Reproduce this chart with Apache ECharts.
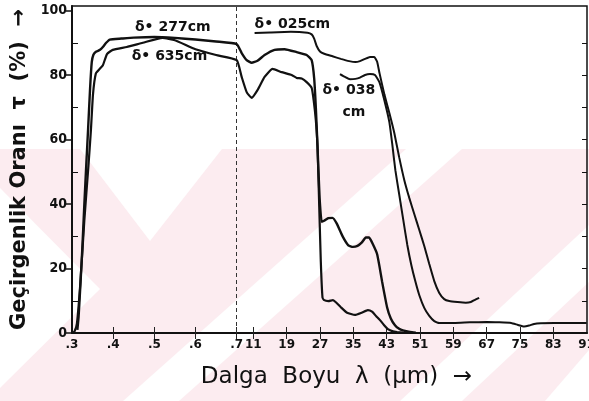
<!DOCTYPE html>
<html><head><meta charset="utf-8">
<script src="https://cdn.jsdelivr.net/npm/echarts@6/dist/echarts.min.js"></script>
<style>html,body{margin:0;padding:0;background:#fff}#c{width:589px;height:401px}</style>
</head><body><div id="c"></div>
<script>
// ---- data (wavelength in micrometres, transmittance in %) ----
const xTickLambdas = [0.3, 0.4, 0.5, 0.6, 0.7, 1.1, 1.9, 2.7, 3.5, 4.3, 5.1, 5.9, 6.7, 7.5, 8.3, 9.1];
const xTickLabels  = ['.3', '.4', '.5', '.6', '.7', '11', '19', '27', '35', '43', '51', '59', '67', '75', '83', '91'];
const yLabelValues = [0, 20, 40, 60, 80, 100];
const yMinorValues = [10, 30, 50, 70, 90];
const yAllValues   = [0, 10, 20, 30, 40, 50, 60, 70, 80, 90, 100];

const d277 = [[0.313,1],[0.316,5],[0.320,14],[0.325,26],[0.330,40],[0.335,53],[0.339,63],[0.344,76],[0.348,84],[0.352,86.3],[0.358,87.2],[0.368,87.8],[0.375,88.7],[0.383,90],[0.392,91],[0.42,91.3],[0.45,91.6],[0.50,91.8],[0.55,91.5],[0.60,91],[0.65,90.4],[0.70,89.6],
  [0.82,86.8],[0.94,84.6],[1.06,83.8],[1.2,84.4],[1.37,86.2],[1.61,87.8],[1.85,88],[2.14,87.1],[2.38,86.2],[2.50,84.6],[2.56,79],[2.60,70],[2.64,58],[2.69,42],[2.74,34.5],
  [2.8,34.8],[2.9,35.6],[3.0,35.7],[3.1,34],[3.25,29.8],[3.38,27.2],[3.49,26.7],[3.6,27],[3.70,28],[3.80,29.6],[3.88,29.6],[3.97,27.5],[4.07,24.5],[4.13,20.5],[4.19,16],[4.31,8],[4.40,4.5],[4.50,2.4],[4.60,1.3],[4.69,0.8],[4.86,0.3],[5.0,0.1]];

const d635 = [[0.300,0],[0.306,0.5],[0.312,3],[0.320,15],[0.330,35],[0.340,52],[0.346,63],[0.351,74],[0.358,80.5],[0.368,82],[0.375,83],[0.385,86.5],[0.399,87.8],[0.433,88.7],[0.472,90],[0.52,91.5],[0.55,90.8],[0.60,88],[0.65,86.2],[0.70,84.6],
  [0.82,79.4],[0.94,74.7],[1.06,72.9],[1.20,75.3],[1.37,79.4],[1.56,81.9],[1.78,80.9],[2.02,80],[2.14,79.1],[2.26,78.9],[2.38,77.8],[2.50,76],[2.55,72],[2.60,66],[2.64,58],[2.68,40],[2.72,22],[2.76,11],[2.80,10.2],
  [2.9,9.9],[3.01,10.2],[3.1,9.3],[3.2,8],[3.35,6.3],[3.54,5.6],[3.7,6.3],[3.85,7.1],[3.95,6.6],[4.05,5.2],[4.14,4],[4.24,2.4],[4.33,1.2],[4.45,0.5],[4.55,0.3],[4.7,0.1]];

const d025 = [[1.13,93.0],[1.5,93.2],[2.0,93.4],[2.4,93.1],[2.50,92.6],[2.56,91.3],[2.62,89],[2.70,87.3],[2.80,86.6],[3.0,85.8],[3.2,85],[3.4,84.3],[3.55,84],[3.66,84.3],[3.78,85],[3.90,85.6],[4.00,85.6],[4.07,84.2],[4.13,80.5],[4.245,74],[4.365,68.2],[4.484,62.0],[4.604,54.3],[4.724,47.4],[4.843,41.9],[4.963,36.9],[5.082,32.0],[5.203,27.0],[5.323,21.4],[5.443,16.1],[5.563,12.4],[5.682,10.5],[5.803,9.9],[6.0,9.6],[6.2,9.4],[6.32,9.6],[6.42,10.3],[6.52,10.9]];

const d038 = [[3.18,80.3],[3.30,79.4],[3.42,78.7],[3.55,78.8],[3.66,79.2],[3.78,80],[3.90,80.3],[4.02,80],[4.126,77.8],[4.245,72.2],[4.365,65.4],[4.437,58.3],[4.509,50.5],[4.604,42.8],[4.700,35.0],[4.796,27.3],[4.892,21.1],[4.987,16.1],[5.082,11.8],[5.203,7.8],[5.323,5.3],[5.443,3.7],[5.563,3.1],[5.75,3.1],[5.92,3.1],[6.3,3.3],[6.71,3.4],[7.0,3.3],[7.29,3.1],[7.45,2.5],[7.60,2.0],[7.72,2.3],[7.84,2.8],[8.0,3.0],[8.32,3.1],[8.73,3.1],[9.1,3.1]];

const annotations = [
  {text: 'δ• 277cm', lambda: 0.453, value: 94.9},
  {text: 'δ• 635cm', lambda: 0.445, value: 85.9},
  {text: 'δ• 025cm', lambda: 1.13,  value: 95.6},
  {text: 'δ• 038',   lambda: 2.76,  value: 75.3},
  {text: 'cm',       lambda: 3.24,  value: 68.5}
];

// ---- broken wavelength scale: 0.3–0.7 expanded x10, then linear ----
const K = 1.012;
function u(l) { return l <= 0.7 ? l * 10 : 7 + (l - 0.7) * K; }
const conv = arr => arr.map(p => [u(p[0]), p[1]]);
const tickU = xTickLambdas.map(u);
function labelFor(v) {
  let best = 0, bd = 1e9;
  tickU.forEach((t, i) => { const d = Math.abs(t - v); if (d < bd) { bd = d; best = i; } });
  return xTickLabels[best];
}

const chart = echarts.init(document.getElementById('c'), null, {renderer: 'canvas'});
const lineCol = '#111';
const mkSeries = (name, data, w) => ({
  name, type: 'line', data: conv(data), showSymbol: false, smooth: 0.15,
  lineStyle: {color: lineCol, width: w}, z: 5, silent: true, animation: false
});

const pink = '#fcecf0';
const series = [
  mkSeries('277', d277, 2.4),
  mkSeries('635', d635, 2.2),
  mkSeries('025', d025, 2.0),
  mkSeries('038', d038, 2.0)
];
series[0].markLine = {
  silent: true, symbol: 'none', animation: false,
  lineStyle: {color: '#333', width: 1, type: [4, 3]}, label: {show: false},
  data: [{xAxis: u(0.7)}]
};
series[1].markPoint = {
  symbol: 'circle', symbolSize: 0, animation: false, silent: true,
  label: {show: true, position: 'right', distance: 0, color: '#111', fontSize: 14, fontWeight: 'bold', fontFamily: 'DejaVu Sans', formatter: p => p.name},
  data: annotations.map(a => ({name: a.text, coord: [u(a.lambda), a.value]}))
};

chart.setOption({
  animation: false,
  backgroundColor: '#fff',
  graphic: {elements: [
    {type: 'rect', z: -10, silent: true, shape: {x: 0, y: 149, width: 589, height: 252}, style: {fill: pink}},
    {type: 'polygon', z: -9, silent: true, shape: {points: [[80,149],[222,149],[150,241]]}, style: {fill: '#fff'}},
    {type: 'polygon', z: -9, silent: true, shape: {points: [[0,188],[100,289],[0,388]]}, style: {fill: '#fff'}},
    {type: 'polygon', z: -9, silent: true, shape: {points: [[123,401],[179,401],[462,149],[406,149]]}, style: {fill: '#fff'}},
    {type: 'polygon', z: -9, silent: true, shape: {points: [[400,401],[462,401],[589,282],[589,225]]}, style: {fill: '#fff'}},
    {type: 'polygon', z: -9, silent: true, shape: {points: [[589,350],[545,401],[589,401]]}, style: {fill: '#fff'}}
  ]},
  grid: {left: 72, right: 2, top: 6, bottom: 68, show: true, borderColor: '#111', borderWidth: 1.5, backgroundColor: 'transparent', outerBoundsMode: 'none', containLabel: false},
  xAxis: [{
    type: 'value', min: 3, max: 15.51, position: 'bottom',
    name: 'Dalga  Boyu  λ  (μm)  →', nameLocation: 'middle', nameGap: 33,
    nameTextStyle: {fontSize: 23, color: '#111', fontFamily: 'DejaVu Sans', padding: [0, 0, 0, 14]},
    axisLine: {show: true, onZero: false, lineStyle: {color: '#111', width: 2}},
    axisTick: {show: true, inside: true, length: 6, customValues: tickU.slice(1, 15), lineStyle: {color: '#222', width: 1}},
    axisLabel: {show: true, margin: 6, customValues: tickU, formatter: v => labelFor(v), color: '#111', fontSize: 12, fontWeight: 'bold', fontFamily: 'DejaVu Sans'},
    splitLine: {show: false}
  }, {
    type: 'value', min: 3, max: 15.51, position: 'top',
    axisLine: {show: false},
    axisTick: {show: true, inside: true, length: 6, customValues: tickU.slice(1, 15), lineStyle: {color: '#222', width: 1}},
    axisLabel: {show: false}, splitLine: {show: false}
  }],
  yAxis: [{
    type: 'value', min: 0, max: 101.4, position: 'left',
    name: 'Geçirgenlik Oranı  τ  (%)  →', nameLocation: 'middle', nameGap: 39, nameRotate: 90,
    nameTextStyle: {fontSize: 21, fontWeight: 'bold', color: '#111', fontFamily: 'DejaVu Sans'},
    axisLine: {show: true, onZero: false, lineStyle: {color: '#111', width: 2}},
    axisTick: {show: true, inside: false, length: 6, customValues: yLabelValues, lineStyle: {color: '#111', width: 1.5}},
    axisLabel: {show: true, margin: 5, customValues: yLabelValues, color: '#111', fontSize: 14, fontWeight: 'bold', fontFamily: 'DejaVu Sans Condensed'},
    splitLine: {show: false}
  }, {
    type: 'value', min: 0, max: 101.4, position: 'left',
    axisLine: {show: false},
    axisTick: {show: true, inside: true, length: 6, customValues: yMinorValues, lineStyle: {color: '#111', width: 1}},
    axisLabel: {show: false}, splitLine: {show: false}
  }, {
    type: 'value', min: 0, max: 101.4, position: 'right',
    axisLine: {show: false},
    axisTick: {show: true, inside: true, length: 5, customValues: yAllValues.slice(1, 10), lineStyle: {color: '#111', width: 1}},
    axisLabel: {show: false}, splitLine: {show: false}
  }],
  series
});
</script>
</body></html>
